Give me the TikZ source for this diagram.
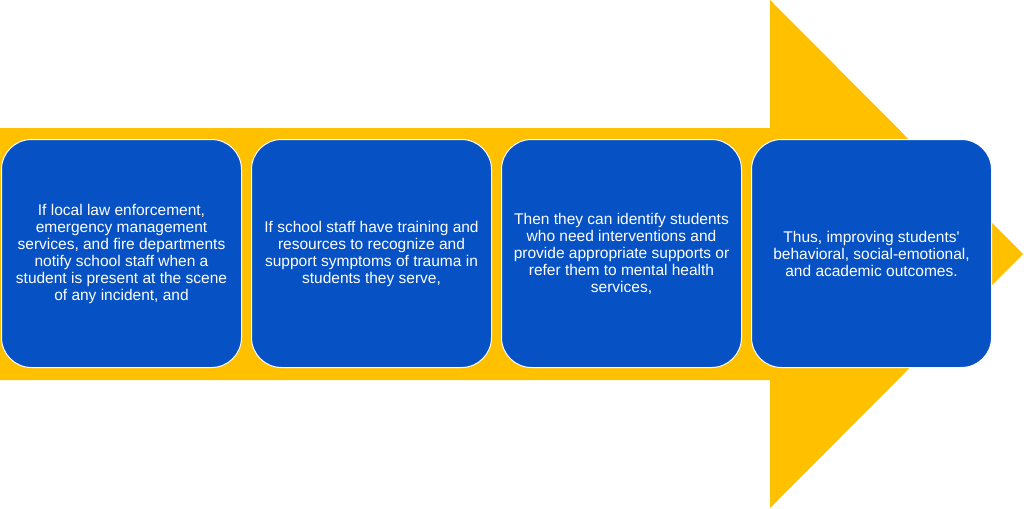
\documentclass[tikz,border=0pt]{standalone}
\usepackage{fontspec}
\setmainfont{Liberation Sans}
\usetikzlibrary{positioning}
\definecolor{arrowyellow}{HTML}{FFC000}
\definecolor{boxblue}{HTML}{0652C5}

\begin{document}
\begin{tikzpicture}[x=1pt, y=-1pt, node distance=9pt, step box/.style={rectangle, rounded corners=30pt, draw=white, line width=1pt, fill=boxblue, text=white, minimum width=240pt, minimum height=228pt, align=center, font=\fontsize{15.5}{17}\selectfont}]
	\useasboundingbox (0,0) rectangle (1024,508);
	% big arrow behind the steps
	\fill[arrowyellow] (0,128) -- (770,128) -- (770,0) -- (1023,254) -- (770,508) -- (770,380) -- (0,380) -- cycle;

	\node[step box] (S1) at (121.5,253.5) {If local law enforcement,\\emergency management\\services, and fire departments\\notify school staff when a\\student is present at the scene\\of any incident, and};
	\node[step box] (S2) [right=of S1] {If school staff have training and\\resources to recognize and\\support symptoms of trauma in\\students they serve,};
	\node[step box] (S3) [right=of S2] {Then they can identify students\\who need interventions and\\provide appropriate supports or\\refer them to mental health\\services,};
	\node[step box] (S4) [right=of S3] {Thus, improving students\textquotesingle\\behavioral, social-emotional,\\and academic outcomes.};
\end{tikzpicture}
\end{document}
